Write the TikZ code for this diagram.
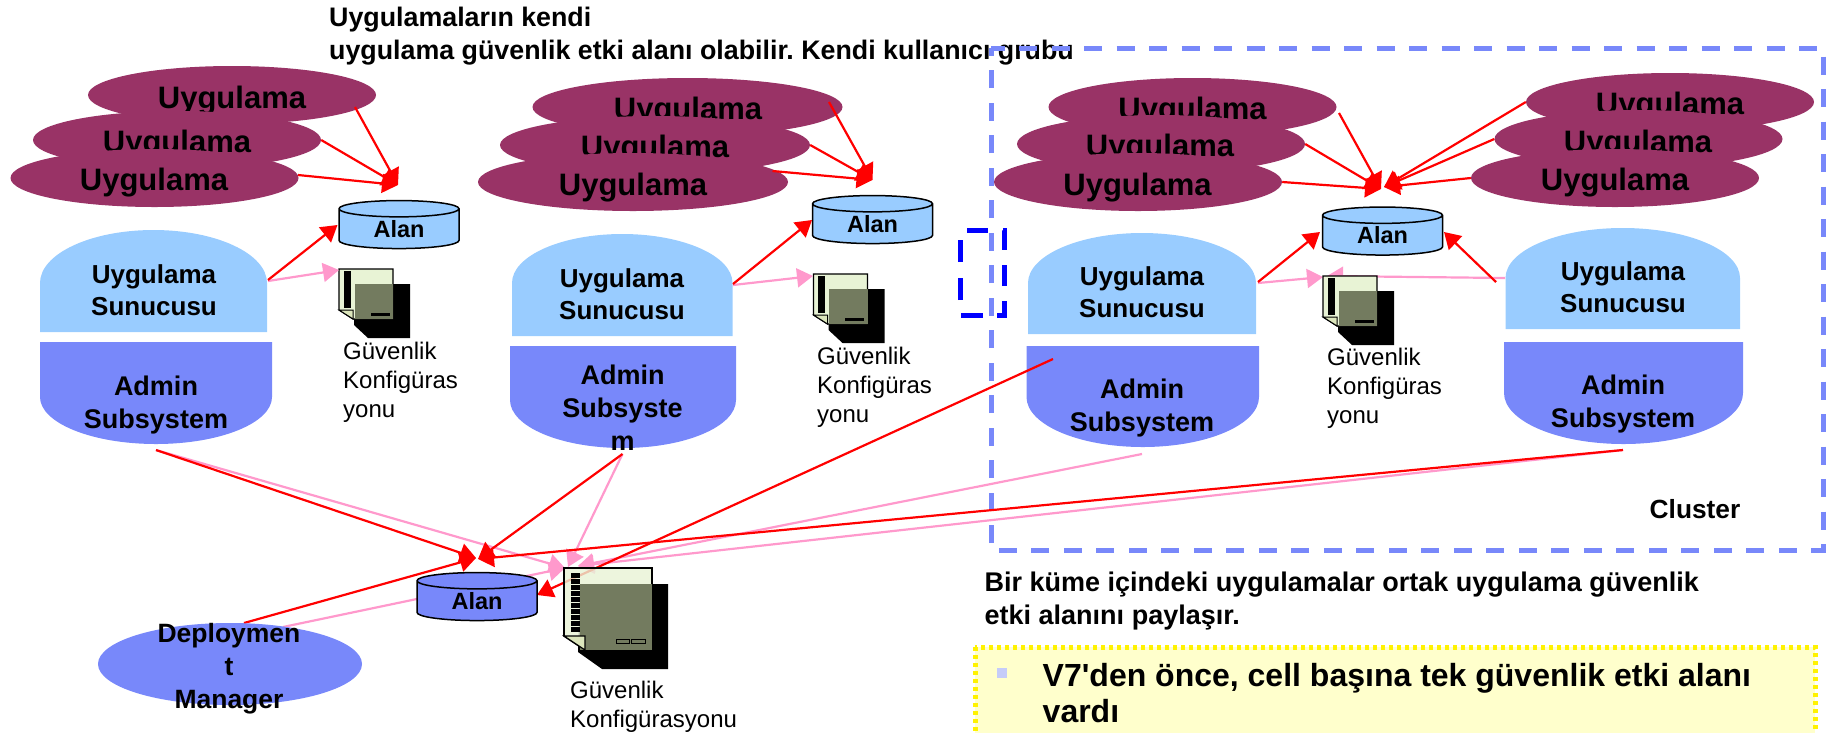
\documentclass[tikz,border=0pt]{standalone}
\usepackage{fontspec}
\setmainfont{Liberation Sans}
\newfontfamily\notefont{Liberation Sans}
\usetikzlibrary{%
  shapes.geometric,%
  arrows.meta%
}
\definecolor{appcol}{HTML}{993366}
\definecolor{servercol}{HTML}{99CCFF}
\definecolor{admincol}{HTML}{7888FA}
\definecolor{linkpink}{HTML}{FF99CC}
\definecolor{pagecol}{HTML}{E8F3D5}
\definecolor{foldcol}{HTML}{DCE6BC}
\definecolor{olivecol}{HTML}{737B5F}
\definecolor{notecol}{HTML}{FFFFCC}
\definecolor{bulletcol}{HTML}{C5CCF9}
\tikzset{
  app/.style={ellipse,fill=appcol,minimum width=288pt,minimum height=58pt,inner sep=0pt},
  applabel/.style={yshift=-4pt,font=\fontsize{31}{36}\selectfont\bfseries},
  server/.style={fill=servercol},
  admin/.style={fill=admincol},
  boxlabel/.style={yshift=-2pt,align=center,inner sep=0pt,font=\fontsize{27}{33}\selectfont\bfseries},
  serverlabel/.style={boxlabel,font=\fontsize{26}{32}\selectfont\bfseries},
  alan/.style={cylinder,shape border rotate=90,aspect=.32,draw=black,line width=1.5pt,
    minimum width=120pt,minimum height=48pt,inner sep=0pt,
    font=\fontsize{23.5}{28}\selectfont\bfseries},
  doclabel/.style={yshift=-2pt,align=left,anchor=west,inner sep=0pt,font=\fontsize{24}{29}\selectfont},
  remark/.style={align=left,anchor=west,inner sep=0pt,font=\frenchspacing\fontsize{27}{33}\selectfont\bfseries},
  rlink/.style={->,red,line width=2.2pt},
  plink/.style={->,linkpink,line width=2.2pt},
  secdoc/.pic={
    \fill[black] (15,15) -- (71,15) -- (71,69) -- (29,69) -- (15,56) -- cycle;
    \draw[fill=pagecol,line width=1.2pt] (0,0) -- (54,0) -- (54,50) -- (14,50) -- (0,41) -- cycle;
    \fill[olivecol] (15.5,15) rectangle (54,50);
    \draw[fill=foldcol,line width=1pt] (0,41) -- (14,41) -- (14,50) -- cycle;
    \draw[line width=7pt,dash pattern=on 3.5pt off .5pt] (8,2) -- (8,39);
    \fill[black] (31.5,44) rectangle (50.5,47);
  },
  secdocbig/.pic={
    \fill[black] (16,16) -- (104,16) -- (104,101) -- (38,101) -- (14,84) -- cycle;
    \draw[fill=pagecol,fill opacity=.8,line width=1.6pt] (0,0) -- (88,0) -- (88,82) -- (21,82) -- (0,68) -- cycle;
    \fill[olivecol] (16,16) rectangle (88,82);
    \draw[fill=foldcol,line width=1.2pt] (0,68) -- (21,68) -- (21,82) -- cycle;
    \draw[line width=9pt,dash pattern=on 5pt off 1pt] (11.5,5) -- (11.5,64);
    \draw[line width=1pt] (52,71) rectangle (65,75) (67,71) rectangle (81,75);
  }
}

\begin{document}
\begin{tikzpicture}[x=1pt,y=-1pt,>={Triangle[length=16pt,width=19pt]}]
\useasboundingbox (0,0) rectangle (1833,732);

\node[remark,font=\frenchspacing\fontsize{26.8}{33}\selectfont\bfseries] (title) at (329,36) {Uygulamaların kendi\\uygulama güvenlik etki alanı olabilir. Kendi kullanıcı grubu};

% first server
\node[app] (a11) at (232,95) {}; \node[applabel] (la11) at (232,97) {Uygulama};
\node[app] (a12) at (177,140) {}; \node[applabel] (la12) at (177,141) {Uygulama};
\node[app] (a13) at (154.5,178) {}; \node[applabel] (la13) at (154,179) {Uygulama};
\fill[server] (40,332) -- (40,283) arc[start angle=180,end angle=0,x radius=113.5pt,y radius=53pt] -- (267,332) -- cycle;
\node[serverlabel] (s1) at (154,288.5) {Uygulama\\Sunucusu};
\fill[admin] (40,342) -- (272,342) -- (272,397) arc[start angle=0,end angle=-180,x radius=116pt,y radius=47pt] -- cycle;
\node[boxlabel] (ad1) at (156,403) {Admin\\Subsystem};
\node[alan,fill=servercol] (al1) at (399,229) {Alan};
\pic at (339,269) {secdoc};
\node[doclabel] (d1) at (343,380) {Güvenlik\\Konfigüras\\yonu};

% second server
\node[app,minimum width=310pt] (a21) at (687.5,107) {}; \node[applabel] (la21) at (688,108) {Uygulama};
\node[app,minimum width=310pt] (a22) at (655,145) {}; \node[applabel] (la22) at (655,146) {Uygulama};
\node[app,minimum width=310pt] (a23) at (633,182) {}; \node[applabel] (la23) at (633,184) {Uygulama};
\fill[server] (512,336) -- (512,283) arc[start angle=180,end angle=0,x radius=110.25pt,y radius=49pt] -- (732.5,336) -- cycle;
\node[serverlabel] (s2) at (622,292.5) {Uygulama\\Sunucusu};
\fill[admin] (510,346) -- (736,346) -- (736,400) arc[start angle=0,end angle=-180,x radius=113pt,y radius=48pt] -- cycle;
\node[boxlabel] (ad2) at (622.5,406) {Admin\\Subsyste\\m};
\node[alan,fill=servercol] (al2) at (872.5,224) {Alan};
\pic at (813.5,274) {secdoc};
\node[doclabel] (d2) at (817,385) {Güvenlik\\Konfigüras\\yonu};

% the cluster
\node[app] (a31) at (1192.5,107) {}; \node[applabel] (la31) at (1192.5,108) {Uygulama};
\node[app] (a32) at (1161,144) {}; \node[applabel] (la32) at (1160,145) {Uygulama};
\node[app] (a33) at (1138,182) {}; \node[applabel] (la33) at (1137.5,184) {Uygulama};
\node[app] (a41) at (1670,102) {}; \node[applabel] (la41) at (1670,103) {Uygulama};
\node[app] (a42) at (1638.5,139) {}; \node[applabel] (la42) at (1638,141) {Uygulama};
\node[app] (a43) at (1615,178) {}; \node[applabel] (la43) at (1615,179) {Uygulama};
\fill[server] (1028,334) -- (1028,283) arc[start angle=180,end angle=0,x radius=114pt,y radius=50pt] -- (1256,334) -- cycle;
\node[serverlabel] (s3) at (1142,290) {Uygulama\\Sunucusu};
\fill[admin] (1026.5,346) -- (1259,346) -- (1259,397) arc[start angle=0,end angle=-180,x radius=116.25pt,y radius=50pt] -- cycle;
\node[boxlabel] (ad3) at (1142,406) {Admin\\Subsystem};
\fill[server] (1505.5,329) -- (1505.5,278) arc[start angle=180,end angle=0,x radius=117.25pt,y radius=50pt] -- (1740,329) -- cycle;
\node[serverlabel] (s4) at (1623,285.5) {Uygulama\\Sunucusu};
\fill[admin] (1504,342) -- (1743,342) -- (1743,393) arc[start angle=0,end angle=-180,x radius=119.5pt,y radius=51pt] -- cycle;
\node[boxlabel] (ad4) at (1623,402.5) {Admin\\Subsystem};
\node[alan,fill=servercol] (al3) at (1382.5,235.5) {Alan};
\node[doclabel] (d3) at (1327,386) {Güvenlik\\Konfigüras\\yonu};
\node[remark,anchor=center,font=\fontsize{26.3}{33}\selectfont\bfseries] (cl) at (1695,509) {Cluster};
\draw[admincol,line width=5pt,dash pattern=on 18pt off 14.5pt,dash phase=4.5pt]
  (991,48) -- (1823,48) -- (1823,550) -- (991,550) -- cycle;

% the odd dashed box
\draw[blue,line width=5pt,dash pattern=on 21pt off 15pt] (967,230) -- (1004,230) -- (1004,315) -- (991,315);
\draw[blue,line width=5pt,dash pattern=on 22pt off 16pt] (983,315) -- (960,315) -- (960,232);

% end points of the links
\coordinate (o11) at (355,107);
\coordinate (o13) at (298,175);
\coordinate (t1) at (398,185);
\coordinate (sr1) at (268,280);
\coordinate (sp1) at (268,281);
\coordinate (ia1) at (337.5,225);
\coordinate (id1) at (339,270);
\coordinate (o21) at (829,102);
\coordinate (o23) at (772.5,171);
\coordinate (t2) at (872.5,180);
\coordinate (sr2) at (733,284);
\coordinate (sp2) at (733,285);
\coordinate (ia2) at (812,220);
\coordinate (id2) at (813,276);
\coordinate (o31) at (1339,113);
\coordinate (t3) at (1381,189);
\coordinate (t4) at (1384,187);
\coordinate (sr3) at (1258,282);
\coordinate (sp3) at (1258,283);
\coordinate (ia3) at (1320,232);
\coordinate (id3) at (1323,277);
\coordinate (sr4) at (1496,282);
\coordinate (sp4) at (1505,278);
\coordinate (ib3) at (1444,232);
\coordinate (ie3) at (1327,276);
\coordinate (ob1) at (156,450);
\coordinate (ob2) at (622.5,454);
\coordinate (ob3) at (1142,454);
\coordinate (ob4) at (1623,450);
\coordinate (oa3) at (1053,359);
\coordinate (om1) at (244,623);
\coordinate (om2) at (283,627);
\coordinate (tc) at (476,558);
\coordinate (tb) at (478,559);
\coordinate (tw) at (537,595);
\coordinate (dc1) at (565,568);
\coordinate (dc2) at (568,567);
\coordinate (dc3) at (578,566);

\draw[plink] (sp1) edge (id1)
             (sp2) edge (id2)
             (sp3) edge (id3)
             (sp4) edge (ie3)
             (ob1) edge (dc1)
             (ob2) edge (dc2)
             (ob3) edge (dc3)
             (ob4) edge (dc3)
             (om2) -- (dc1)
;
\draw[rlink] (o11) edge (t1)
             (a12.east) edge (t1)
             (o13) edge (t1)
             (sr1) edge (ia1)
             (o21) edge (t2)
             (a22.east) edge (t2)
             (o23) edge (t2)
             (sr2) edge (ia2)
             (o31) edge (t3)
             (a32.east) edge (t3)
             (a33.east) edge (t3)
             (a41.west) edge (t4)
             (a42.west) edge (t4)
             (a43.west) edge (t4)
             (sr3) edge (ia3)
             (sr4) edge (ib3)
             (ob1) edge (tc)
             (ob2) edge (tb)
             (ob4) edge (tb)
             (om1) edge (tc)
             (oa3) -- (tw)
;
\pic at (1323,276) {secdoc};

% the deployment manager
\node[ellipse,fill=admincol,minimum width=264pt,minimum height=82pt,inner sep=0pt] (dm) at (230,664) {};
\node[boxlabel,font=\fontsize{26.5}{33}\selectfont\bfseries] (ldm) at (229,667) {Deploymen\\t\\Manager};
\node[alan,fill=admincol] (al4) at (477,601) {Alan};
\pic at (564,568) {secdocbig};
\node[doclabel] (d4) at (570,704.5) {Güvenlik\\Konfigürasyonu};

% the remarks
\node[remark] (r1) at (984.5,601) {Bir küme içindeki uygulamalar ortak uygulama güvenlik\\etki alanını paylaşır.};
\draw[yellow,fill=notecol,line width=5pt,dash pattern=on 4pt off 4pt] (975,647) rectangle (1815,760);
\node[fill=bulletcol,minimum width=10pt,minimum height=10pt,inner sep=0pt] (bl) at (1002,673) {};
\node[remark,font=\notefont\frenchspacing\fontsize{32}{36}\selectfont\bfseries] (r2) at (1042.5,693) {V7'den önce, cell başına tek güvenlik etki alanı\\vardı};
\end{tikzpicture}
\end{document}
